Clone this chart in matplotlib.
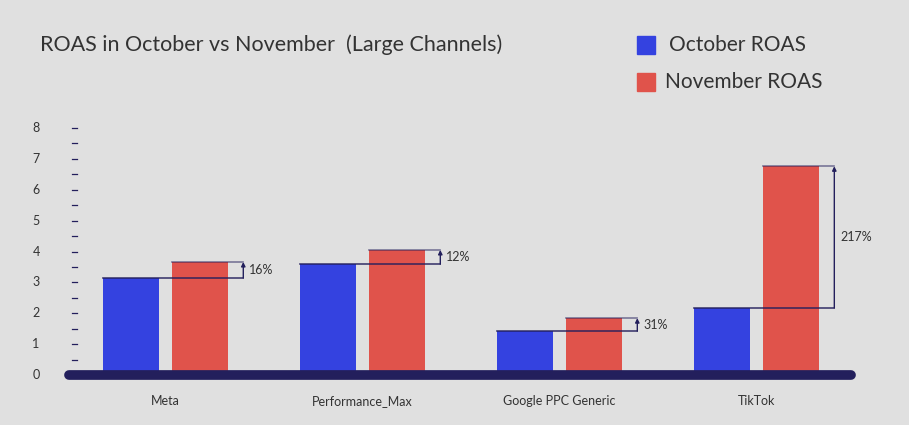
import matplotlib
matplotlib.use("Agg")
import matplotlib.pyplot as plt
from matplotlib.transforms import blended_transform_factory
import matplotlib.patches as mpatches

categories = ["Meta", "Performance_Max", "Google PPC Generic", "TikTok"]
october = [3.14, 3.59, 1.42, 2.17]
november = [3.66, 4.05, 1.84, 6.76]
changes = ["16%", "12%", "31%", "217%"]
yticks = [0, 1, 2, 3, 4, 5, 6, 7, 8]

bg = "#e0e0e0"
blue = "#3442e0"
red = "#e0534b"
navy = "#231f5c"
font = "Lato"

fig = plt.figure(figsize=(9.09, 4.25), dpi=100, facecolor=bg)
ax = fig.add_axes([65/909, 1-375/425, 790/909, 247/425], facecolor=bg)
ax.set_xlim(-0.51, 3.50)
ax.set_ylim(0, 8)
for s in ax.spines.values():
    s.set_visible(False)
ax.set_xticks([])
ax.set_yticks([])

w = 0.28
off = 0.175
xs = list(range(len(categories)))
ax.bar([x - off for x in xs], october, width=w, color=blue, zorder=2)
ax.bar([x + off for x in xs], november, width=w, color=red, zorder=2)

for x, o, n, c in zip(xs, october, november, changes):
    xa = x + off + w/2 + 0.08
    ax.plot([x - off - w/2, xa], [o, o], color=navy, lw=1.2, alpha=0.85, zorder=3)
    ax.plot([x + off - w/2, xa], [n, n], color=navy, lw=1.2, alpha=0.55, zorder=3)
    ax.annotate("", xy=(xa, n), xytext=(xa, o),
                arrowprops=dict(arrowstyle="-|>", color=navy, lw=1.0, mutation_scale=6, shrinkA=0, shrinkB=0), zorder=3)
    ax.text(xa + 0.03, (o + n) / 2, c, fontsize=9, family=font, color="#333333", va="center", ha="left")

tr = blended_transform_factory(ax.transAxes, ax.transData)
for t in yticks:
    ax.text(-29/790, t, str(t), transform=tr, fontsize=9, family=font, color="#333333", ha="center", va="center", clip_on=False)
for i in range(1, 17):
    ax.plot([7/790, 12/790], [i*0.5, i*0.5], transform=tr, color=navy, lw=0.9, clip_on=False)

ax.plot([-0.49, 3.48], [0, 0], color=navy, lw=7, solid_capstyle="round", clip_on=False, zorder=4)

for x, c in zip(xs, categories):
    ax.text(x, -0.85, c, fontsize=9, family=font, color="#333333", ha="center", va="center")

fig.text(40/909, 1-45/425, "ROAS in October vs November  (Large Channels)", fontsize=15.5, family=font, color="#333333", va="center", ha="left")
fig.patches.append(mpatches.Rectangle((637/909, 1-54/425), 18/909, 18/425, transform=fig.transFigure, color=blue))
fig.patches.append(mpatches.Rectangle((637/909, 1-91/425), 18/909, 18/425, transform=fig.transFigure, color=red))
fig.text(669/909, 1-45/425, "October ROAS", fontsize=15, family=font, color="#333333", va="center")
fig.text(665/909, 1-82/425, "November ROAS", fontsize=15, family=font, color="#333333", va="center")

fig.savefig("out.png", dpi=100, facecolor=bg)
